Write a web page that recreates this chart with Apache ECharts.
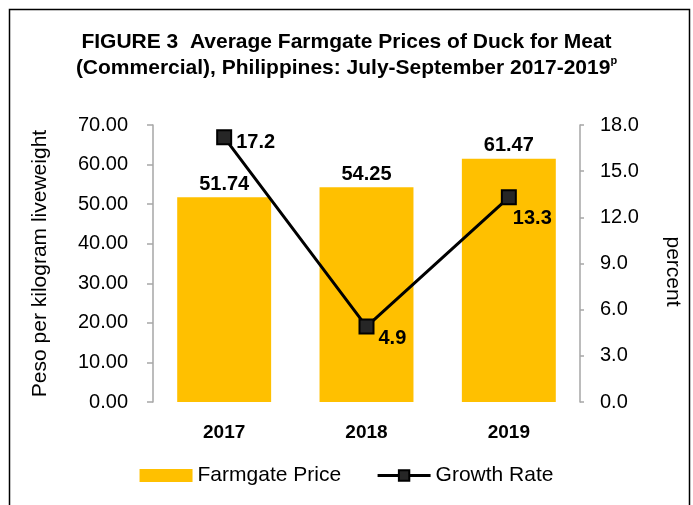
<!DOCTYPE html>
<html>
<head>
<meta charset="utf-8">
<script src="https://cdn.jsdelivr.net/npm/echarts@6/dist/echarts.min.js"></script>
<style>
  html, body { margin: 0; padding: 0; background: #fff; }
  #chart { width: 693px; height: 505px; }
</style>
</head>
<body>
<div id="chart"></div>
<script>
// Farmgate price of duck for meat (commercial), Q3 2017-2019
const years = ["2017", "2018", "2019"];
const farmgatePrice = [51.74, 54.25, 61.47];
const growthRate = [17.2, 4.9, 13.3];

const FONT = "Liberation Sans, Arial, sans-serif";
const chart = echarts.init(document.getElementById("chart"));

// growth-rate labels sit right of / below the marker, shifted per point
const lineLabelShift = [{ dx: 0, dy: 5 }, { dx: 0, dy: 12 }, { dx: -8, dy: 21 }];

chart.setOption({
  backgroundColor: "#fff",
  animation: false,
  textStyle: { fontFamily: FONT },
  title: {
    text: "FIGURE 3  Average Farmgate Prices of Duck for Meat\n(Commercial), Philippines: July-September 2017-2019{sup|p}",
    left: "center",
    top: 24,
    textStyle: {
      fontFamily: FONT, fontSize: 21, fontWeight: "bold", color: "#000", lineHeight: 26,
      rich: { sup: { fontSize: 11, fontWeight: "bold", verticalAlign: "top", padding: [0, 0, 9, 0] } }
    }
  },
  graphic: [{
    type: "rect",
    shape: { x: 9.5, y: 9.5, width: 680, height: 520 },
    style: { fill: null, stroke: "#000", lineWidth: 1.5 },
    silent: true, z: -1
  }],
  legend: {
    top: 460,
    left: "center",
    itemGap: 35,
    itemWidth: 53,
    itemHeight: 13,
    textStyle: { fontFamily: FONT, fontSize: 21, color: "#000" },
    data: [
      { name: "Farmgate Price", icon: "rect", itemStyle: { color: "#FFC000" } },
      { name: "Growth Rate", lineStyle: { width: 3, color: "#000" } }
    ]
  },
  grid: { left: 153, right: 113, top: 125, bottom: 103 },
  xAxis: {
    type: "category",
    data: years,
    axisLine: { show: false },
    axisTick: { show: false },
    axisLabel: { fontFamily: FONT, fontSize: 19, fontWeight: "bold", color: "#000", margin: 21 }
  },
  yAxis: [
    {
      type: "value",
      min: 0, max: 70, interval: 10,
      name: "Peso per kilogram liveweight",
      nameLocation: "middle",
      nameGap: 102,
      nameTextStyle: { fontFamily: FONT, fontSize: 21, color: "#000" },
      axisLine: { show: true, lineStyle: { color: "#a6a6a6", width: 1.5 } },
      axisTick: { show: true, length: 6, lineStyle: { color: "#a6a6a6", width: 1.5 } },
      splitLine: { show: false },
      axisLabel: { fontFamily: FONT, fontSize: 20, color: "#000", margin: 25, formatter: v => v.toFixed(2) }
    },
    {
      type: "value",
      min: 0, max: 18, interval: 3,
      name: "percent",
      nameLocation: "middle",
      nameGap: 82,
      nameRotate: -90,
      nameTextStyle: { fontFamily: FONT, fontSize: 21, color: "#000", padding: [0, 0, 0, 16] },
      axisLine: { show: true, lineStyle: { color: "#a6a6a6", width: 1.5 } },
      axisTick: { show: true, length: 4, lineStyle: { color: "#a6a6a6", width: 1.5 } },
      splitLine: { show: false },
      axisLabel: { fontFamily: FONT, fontSize: 20, color: "#000", margin: 20, formatter: v => v.toFixed(1) }
    }
  ],
  series: [
    {
      name: "Farmgate Price",
      type: "bar",
      data: farmgatePrice,
      barWidth: "66%",
      itemStyle: { color: "#FFC000" },
      label: {
        show: true, position: "top", distance: 3,
        fontFamily: FONT, fontSize: 20, fontWeight: "bold", color: "#000",
        formatter: p => p.value.toFixed(2)
      }
    },
    {
      name: "Growth Rate",
      type: "line",
      yAxisIndex: 1,
      data: growthRate,
      symbol: "rect",
      symbolSize: 14,
      lineStyle: { color: "#000", width: 3 },
      itemStyle: { color: "#262626", borderColor: "#000", borderWidth: 2 },
      label: {
        show: true, position: "right", distance: 4,
        fontFamily: FONT, fontSize: 20, fontWeight: "bold", color: "#000",
        formatter: p => p.value.toFixed(1)
      },
      labelLayout: p => lineLabelShift[p.dataIndex]
    }
  ]
});
</script>
</body>
</html>
